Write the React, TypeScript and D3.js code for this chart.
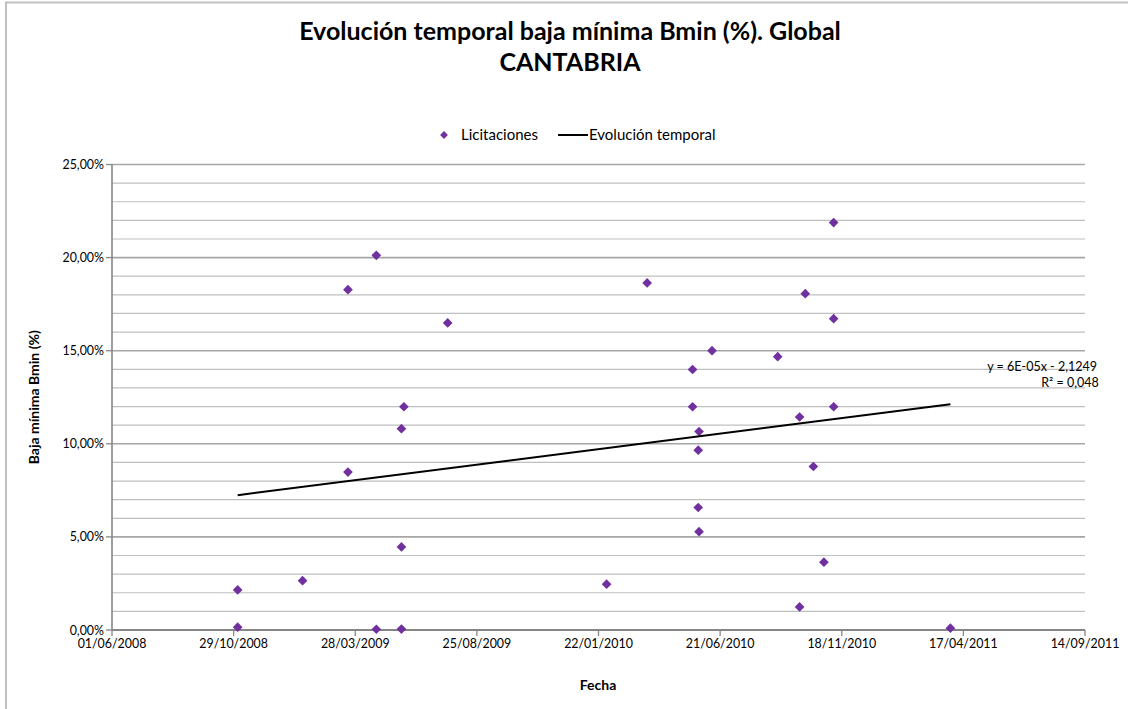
import React from "react";
import * as d3 from "d3";

// Excel date serials (days; 39600 = 01/06/2008)
const pointDates: number[] = [
  39755, 39755, 39835, 39891, 39891, 39926, 39926, 39960, 39957, 39957, 39957,
  40014, 40210, 40260, 40316, 40316, 40324, 40323, 40323, 40324, 40340, 40421,
  40448, 40448, 40455, 40465, 40478, 40490, 40490, 40490, 40634,
];
// Baja mínima (fraction)
const pointValues: number[] = [
  0.0215, 0.0015, 0.0265, 0.1828, 0.0848, 0.2012, 0.0004, 0.1199, 0.1081, 0.0446, 0.0005,
  0.1649, 0.0246, 0.1864, 0.1399, 0.1199, 0.1066, 0.0966, 0.0658, 0.0528, 0.15, 0.1468,
  0.1144, 0.0124, 0.1806, 0.0878, 0.0364, 0.2188, 0.1672, 0.1199, 0.001,
];
const xTicks: number[] = [39600, 39750, 39900, 40050, 40200, 40350, 40500, 40650, 40800];
const yMajorTicks: number[] = [0, 0.05, 0.1, 0.15, 0.2, 0.25];
const yMinorTicks: number[] = d3.range(0, 26).map((i) => i / 100);

// linear trend (Excel trendline, unrounded coefficients)
const trendSlope = 5.55e-5;
const trendIntercept = -2.134;

const titleLines = ["Evolución temporal baja mínima Bmin (%). Global", "CANTABRIA"];
const legendPoints = "Licitaciones";
const legendLine = "Evolución temporal";
const equationText = "y = 6E-05x - 2,1249";
const r2Text = "R² = 0,048";

const FONT = "Lato, 'Open Sans', 'Liberation Sans', sans-serif";
const PURPLE = "#7030A0";

function serialToLabel(s: number): string {
  const base = Date.UTC(1899, 11, 30);
  const d = new Date(base + s * 86400000);
  return d3.utcFormat("%d/%m/%Y")(d);
}

function fmtPct(v: number): string {
  return (v * 100).toFixed(2).replace(".", ",") + "%";
}

export default function App() {
  const left = 112, right = 1085, top = 164.5, bottom = 630;
  const x = d3.scaleLinear().domain([39600, 40800]).range([left, right]);
  const y = d3.scaleLinear().domain([0, 0.25]).range([bottom, top]);

  const xmin = d3.min(pointDates) as number;
  const xmax = d3.max(pointDates) as number;
  const line = d3
    .line<number>()
    .x((d) => x(d))
    .y((d) => y(trendSlope * d + trendIntercept));

  const diamond = d3.symbol().type(d3.symbolDiamond2).size(60)() as string;

  return (
    <svg
      width={1128}
      height={709}
      style={{ position: "absolute", left: 0, top: 0, background: "#fff" }}
      fontFamily={FONT}
    >
      <rect x={6} y={2.5} width={1200} height={800} fill="none" stroke="#c0c0c0" strokeWidth={2} />

      {/* title */}
      <text x={570} y={40} textAnchor="middle" fontSize={25} fontWeight="bold" fill="#000">
        {titleLines[0]}
      </text>
      <text x={570} y={71} textAnchor="middle" fontSize={25} fontWeight="bold" fill="#000">
        {titleLines[1]}
      </text>

      {/* legend */}
      <path d={diamond} transform="translate(444,135) scale(0.8)" fill={PURPLE} />
      <text x={461} y={140} fontSize={15} fill="#000">{legendPoints}</text>
      <line x1={558} y1={135} x2={588} y2={135} stroke="#000" strokeWidth={2} />
      <text x={589} y={140} fontSize={15} fill="#000">{legendLine}</text>

      {/* gridlines */}
      {yMinorTicks.map((t, i) => (
        <line
          key={"g" + i}
          x1={left}
          x2={right}
          y1={y(t)}
          y2={y(t)}
          stroke={i % 5 === 0 ? "#a6a6a6" : "#bfbfbf"}
          strokeWidth={i % 5 === 0 ? 1.6 : 1.2}
        />
      ))}

      {/* y axis */}
      <line x1={left} x2={left} y1={top} y2={bottom} stroke="#868686" strokeWidth={1.6} />
      {yMajorTicks.map((t, i) => (
        <g key={"yt" + i}>
          <line x1={left - 6} x2={left} y1={y(t)} y2={y(t)} stroke="#868686" strokeWidth={1.3} />
          <text x={left - 8} y={y(t) + 4.5} textAnchor="end" fontSize={12.4} fill="#000">
            {fmtPct(t)}
          </text>
        </g>
      ))}

      {/* x axis */}
      <line x1={left} x2={right} y1={bottom} y2={bottom} stroke="#868686" strokeWidth={2} />
      {xTicks.map((t, i) => (
        <g key={"xt" + i}>
          <line x1={x(t)} x2={x(t)} y1={bottom} y2={bottom + 6} stroke="#868686" strokeWidth={1.3} />
          <text x={x(t)} y={bottom + 18} textAnchor="middle" fontSize={12.4} fill="#000">
            {serialToLabel(t)}
          </text>
        </g>
      ))}

      {/* axis titles */}
      <text
        transform={`translate(39,${(top + bottom) / 2}) rotate(-90)`}
        textAnchor="middle"
        fontSize={14}
        fontWeight="bold"
        fill="#000"
      >
        Baja mínima Bmin (%)
      </text>
      <text x={598} y={690} textAnchor="middle" fontSize={14} fontWeight="bold" fill="#000">
        Fecha
      </text>

      {/* points */}
      {pointDates.map((d, i) => (
        <path key={"p" + i} d={diamond} transform={`translate(${x(d)},${y(pointValues[i])})`} fill={PURPLE} />
      ))}

      {/* trend line */}
      <path d={line([xmin, xmax]) as string} fill="none" stroke="#000" strokeWidth={2} />

      {/* equation */}
      <text x={1097} y={371} textAnchor="end" fontSize={12.5} fill="#000">{equationText}</text>
      <text x={1070} y={387} textAnchor="middle" fontSize={12.5} fill="#000">{r2Text}</text>
    </svg>
  );
}
